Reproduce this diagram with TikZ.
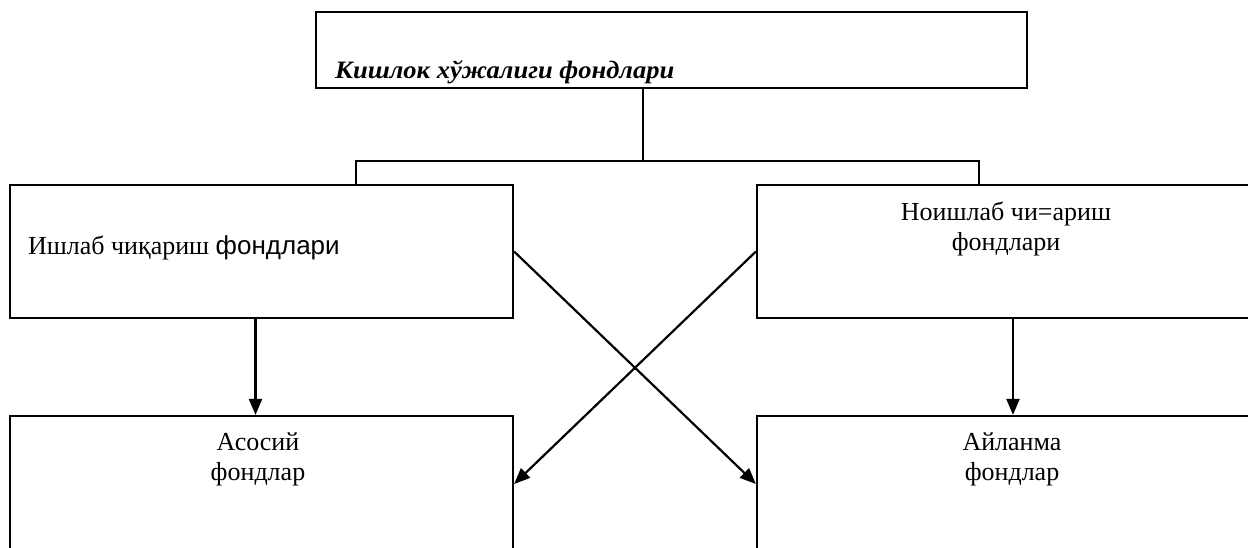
\documentclass[tikz,border=0pt]{standalone}
\usepackage{fontspec}
\usepackage{graphicx}
\setmainfont{Liberation Serif}
\newfontfamily\arialfont{Liberation Sans}
\usetikzlibrary{arrows.meta}

\begin{document}
\begin{tikzpicture}[x=1pt, y=-1pt,
	box/.style={draw, line width=2.2pt, inner sep=0pt},
	txt/.style={font=\fontsize{26}{30}\selectfont, align=center, inner sep=0pt},
	line/.style={line width=2.2pt},
	arr/.style={line width=2.2pt, -{Triangle[length=16pt, width=13pt]}}]
\useasboundingbox (0,0) rectangle (1248,547);
\clip (0,0) rectangle (1248,547);

% boxes
\node [box, minimum width=711pt, minimum height=76pt] (topbox) at (671.5,50) {};
\node [box, minimum width=503pt, minimum height=133pt] (prodbox) at (261.5,251.5) {};
\node [box, minimum width=512pt, minimum height=133pt] (nonprodbox) at (1013,251.5) {};
\node [box, minimum width=503pt, minimum height=136pt] (basicbox) at (261.5,484) {};
\node [box, minimum width=512pt, minimum height=136pt] (circbox) at (1013,484) {};

% texts
\node [txt, anchor=base west, font=\fontsize{25}{28}\selectfont\bfseries\itshape] (titletext) at ([xshift=20pt, yshift=-28pt]topbox.west) {\scalebox{1.06}[1]{Кишлок хўжалиги фондлари}};
\node [txt, anchor=west] (prodtext) at ([xshift=19pt, yshift=3.5pt]prodbox.west) {Ишлаб чиқариш {\arialfont фондлари}};
\node [txt] (nonprodtext) at ([xshift=-7pt, yshift=22.5pt]nonprodbox.center) {Ноишлаб чи=ариш\\фондлари};
\node [txt] (basictext) at ([xshift=-3.5pt, yshift=25pt]basicbox.center) {Асосий\\фондлар};
\node [txt] (circtext) at ([xshift=-1pt, yshift=25pt]circbox.center) {Айланма\\фондлар};

% fork
\coordinate (fork) at (643,161);
\coordinate (forkL) at (356,161);
\coordinate (forkR) at (979,161);
\draw [line] (topbox.south -| fork) -- (fork);
\draw [line] (prodbox.north -| forkL) -- (forkL) -- (forkR) -- (nonprodbox.north -| forkR);

% arrows
\draw [arr] ([xshift=-6pt]prodbox.south) -- ([xshift=-6pt]basicbox.north);
\draw [arr] (nonprodbox.south) -- (circbox.north);
\draw [arr] (prodbox.east) -- (circbox.west);
\draw [arr] (nonprodbox.west) -- (basicbox.east);
\end{tikzpicture}
\end{document}
